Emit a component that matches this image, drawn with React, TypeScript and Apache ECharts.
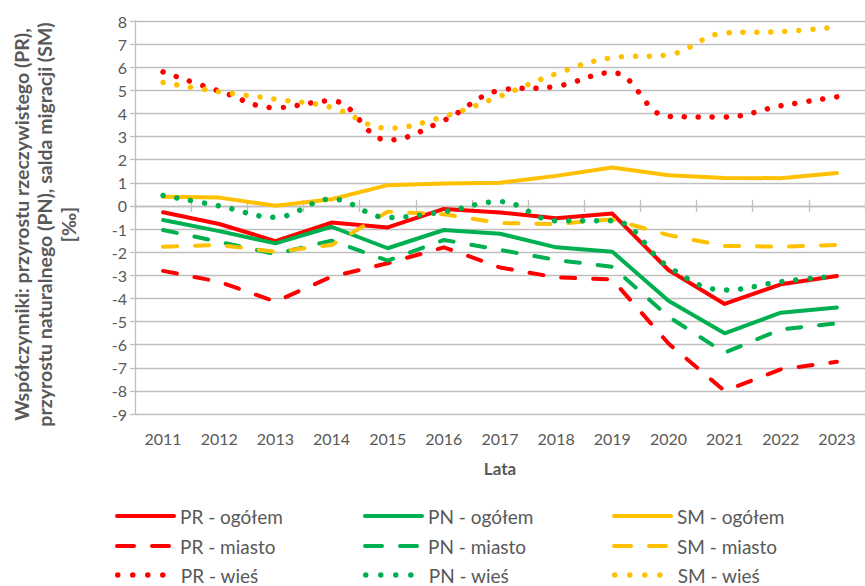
import React, { useEffect, useRef } from "react";
import * as echarts from "echarts";

const years = ["2011", "2012", "2013", "2014", "2015", "2016", "2017", "2018", "2019", "2020", "2021", "2022", "2023"];

const prOgolem = [-0.27, -0.78, -1.52, -0.72, -0.93, -0.13, -0.28, -0.53, -0.33, -2.77, -4.24, -3.39, -3.03];
const prMiasto = [-2.81, -3.28, -4.14, -3.06, -2.48, -1.79, -2.66, -3.09, -3.18, -5.95, -8.0, -7.07, -6.74];
const prWies = [5.8, 4.97, 4.25, 4.55, 2.85, 3.7, 5.0, 5.17, 5.77, 3.87, 3.85, 4.33, 4.72];

const pnOgolem = [-0.61, -1.09, -1.62, -0.9, -1.83, -1.04, -1.2, -1.79, -1.98, -4.1, -5.51, -4.62, -4.39];
const pnMiasto = [-1.04, -1.55, -2.08, -1.5, -2.37, -1.47, -1.9, -2.34, -2.63, -4.79, -6.35, -5.34, -5.08];
const pnWies = [0.45, 0.0, -0.49, 0.3, -0.5, -0.25, 0.19, -0.64, -0.64, -2.63, -3.64, -3.28, -3.03];

const smOgolem = [0.4, 0.36, 0.01, 0.29, 0.9, 0.97, 1.0, 1.3, 1.66, 1.33, 1.21, 1.2, 1.42];
const smMiasto = [-1.76, -1.69, -1.98, -1.69, -0.25, -0.36, -0.74, -0.78, -0.58, -1.26, -1.73, -1.76, -1.69];
const smWies = [5.34, 4.94, 4.62, 4.26, 3.36, 3.87, 4.75, 5.72, 6.41, 6.54, 7.48, 7.54, 7.74];

const RED = "#FF0000";
const GREEN = "#00B050";
const YELLOW = "#FFC000";
const TEXT = "#595959";
const GRID = "#BFBFBF";
const FONT = "Lato, 'Open Sans', sans-serif";

type Kind = "solid" | "dash" | "dot";

const legendColumns = [115, 363, 612];
const legendRows = [516, 546, 575];

function mkSeries(name: string, data: number[], color: string, kind: Kind) {
  const lineStyle: any = { color, width: 4, cap: "round", join: "round" };
  if (kind === "dash") {
    lineStyle.type = [14, 18];
  } else if (kind === "dot") {
    lineStyle.type = [0.01, 14];
    lineStyle.width = 5.5;
  }
  return {
    name,
    type: "line",
    data,
    xAxisIndex: 0,
    yAxisIndex: 0,
    symbol: "none",
    showSymbol: false,
    smooth: kind === "dot" ? 0.4 : false,
    lineStyle,
    itemStyle: { color },
    emphasis: { disabled: true },
  };
}

function mkLegend(name: string, col: number, row: number, kind: Kind) {
  const lineStyle: any = { width: kind === "dot" ? 5.5 : 4, cap: "round" };
  if (kind === "dash") lineStyle.type = [17, 18];
  else if (kind === "dot") lineStyle.type = [0.01, 15];
  else lineStyle.type = "solid";
  return {
    data: [name],
    orient: "horizontal",
    left: legendColumns[col],
    top: legendRows[row] - 10,
    itemWidth: 57,
    itemHeight: 20,
    itemGap: 0,
    padding: 0,
    selectedMode: false,
    itemStyle: { opacity: 0 },
    lineStyle,
    textStyle: { fontSize: 19, lineHeight: 20, color: TEXT, fontFamily: FONT, padding: [0, 0, 0, 1] },
  };
}

export default function App() {
  const ref = useRef<HTMLDivElement>(null);

  useEffect(() => {
    if (!ref.current) return;
    const chart = echarts.init(ref.current, undefined, { renderer: "svg" });

    const option: any = {
      animation: false,
      backgroundColor: "#ffffff",
      grid: { left: 135, top: 21, width: 735, height: 393, containLabel: false },
      legend: [
        mkLegend("PR - ogółem", 0, 0, "solid"),
        mkLegend("PN - ogółem", 1, 0, "solid"),
        mkLegend("SM - ogółem", 2, 0, "solid"),
        mkLegend("PR - miasto", 0, 1, "dash"),
        mkLegend("PN - miasto", 1, 1, "dash"),
        mkLegend("SM - miasto", 2, 1, "dash"),
        mkLegend("PR - wieś", 0, 2, "dot"),
        mkLegend("PN - wieś", 1, 2, "dot"),
        mkLegend("SM - wieś", 2, 2, "dot"),
      ],
      xAxis: [
        {
          type: "category",
          data: years,
          position: "bottom",
          boundaryGap: true,
          axisLine: { show: false, onZero: false },
          axisTick: { show: false },
          splitLine: { show: false },
          axisLabel: { color: TEXT, fontSize: 16, fontFamily: FONT, margin: 16, interval: 0 },
          name: "Lata",
          nameLocation: "middle",
          nameGap: 46,
          nameTextStyle: { color: TEXT, fontSize: 17, fontWeight: "bold", fontFamily: FONT },
        },
        {
          type: "category",
          data: years,
          position: "bottom",
          boundaryGap: true,
          axisLine: { show: true, onZero: true, onZeroAxisIndex: 0, lineStyle: { color: GRID, width: 1.3 } },
          axisTick: { show: true, inside: false, length: 6, interval: 0, lineStyle: { color: GRID, width: 1.3 } },
          axisLabel: { show: false },
          splitLine: { show: false },
        },
        {
          type: "category",
          data: years,
          position: "bottom",
          boundaryGap: true,
          axisLine: { show: false, onZero: true, onZeroAxisIndex: 0 },
          axisTick: { show: true, inside: true, length: 6, interval: 0, lineStyle: { color: GRID, width: 1.3 } },
          axisLabel: { show: false },
          splitLine: { show: false },
        },
      ],
      yAxis: {
        type: "value",
        min: -9,
        max: 8,
        interval: 1,
        axisLine: { show: true, lineStyle: { color: GRID, width: 1.3 } },
        axisTick: { show: true, length: 5, lineStyle: { color: GRID, width: 1.3 } },
        splitLine: { show: true, lineStyle: { color: GRID, width: 1.3 } },
        axisLabel: { color: TEXT, fontSize: 16, fontFamily: FONT, margin: 8 },
        name: "Współczynniki: przyrostu rzeczywistego (PR),\nprzyrostu naturalnego (PN), salda migracji (SM)\n[‰]",
        nameLocation: "middle",
        nameRotate: 90,
        nameGap: 55,
        nameTextStyle: {
          color: TEXT,
          fontSize: 19.5,
          fontWeight: "bold",
          fontFamily: FONT,
          lineHeight: 23.5,
          align: "center",
          padding: [0, 14, 0, 0],
        },
      },
      series: [
        mkSeries("PR - ogółem", prOgolem, RED, "solid"),
        mkSeries("PN - ogółem", pnOgolem, GREEN, "solid"),
        mkSeries("SM - ogółem", smOgolem, YELLOW, "solid"),
        mkSeries("PR - miasto", prMiasto, RED, "dash"),
        mkSeries("PN - miasto", pnMiasto, GREEN, "dash"),
        mkSeries("SM - miasto", smMiasto, YELLOW, "dash"),
        mkSeries("PR - wieś", prWies, RED, "dot"),
        mkSeries("PN - wieś", pnWies, GREEN, "dot"),
        mkSeries("SM - wieś", smWies, YELLOW, "dot"),
      ],
    };

    chart.setOption(option);
    return () => {
      chart.dispose();
    };
  }, []);

  return (
    <div
      ref={ref}
      style={{ position: "fixed", left: 0, top: 0, width: 865, height: 586, background: "#fff" }}
    />
  );
}
